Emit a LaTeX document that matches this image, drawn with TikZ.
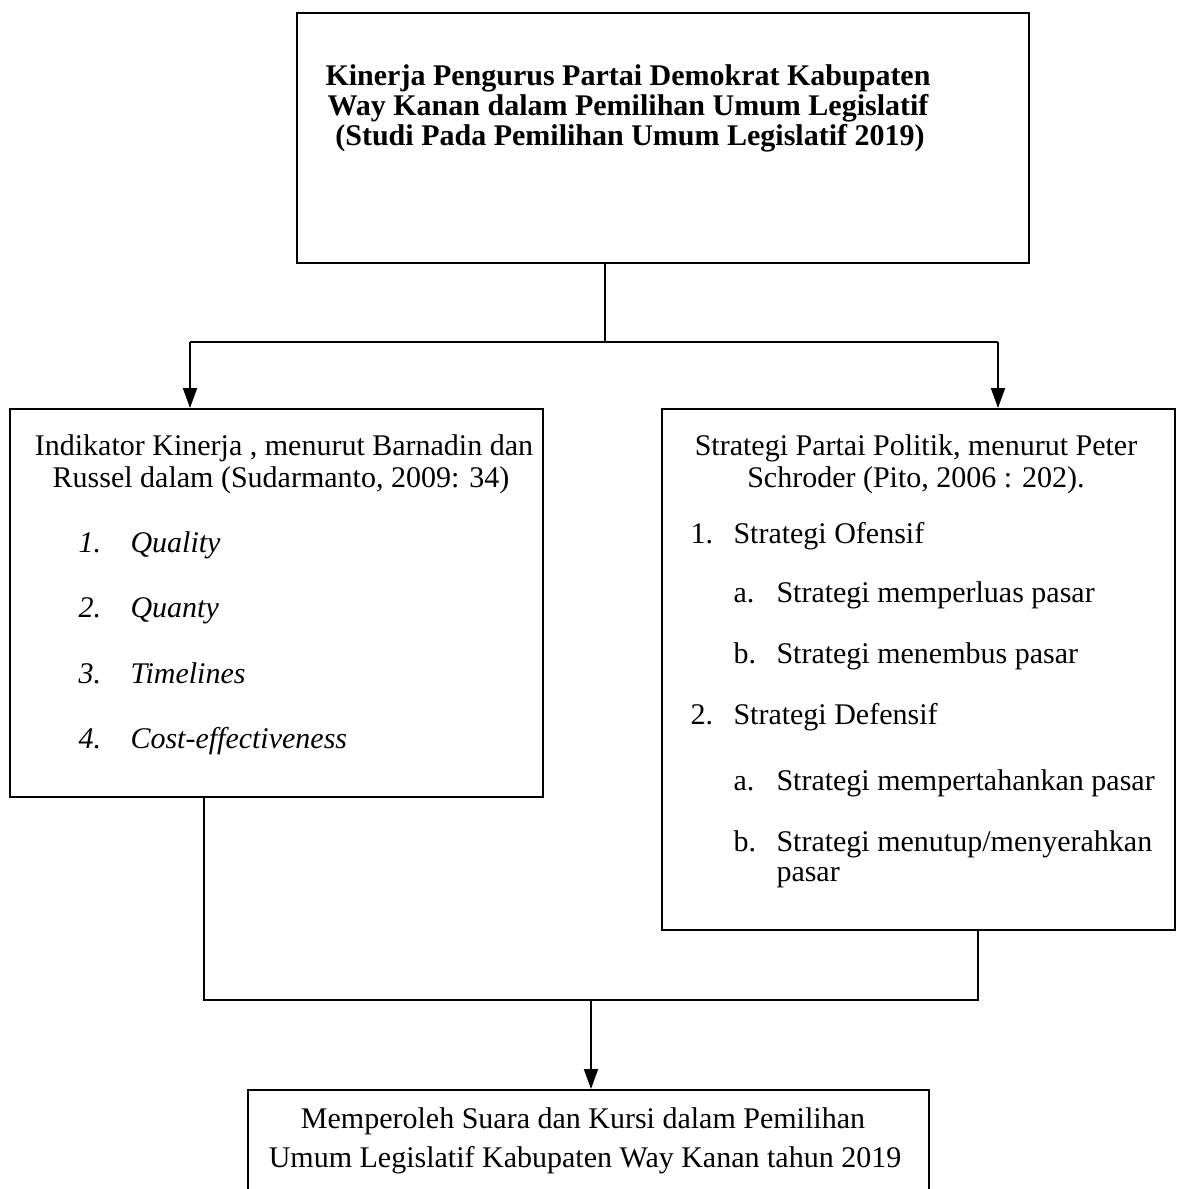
\documentclass[tikz,border=0pt]{standalone}
\usepackage{fontspec}
\setmainfont{Liberation Serif}
\usetikzlibrary{arrows.meta,fit}

\begin{document}
\begin{tikzpicture}[x=0.4pt,y=-0.4pt,
    kotak/.style={draw,line width=0.8pt,inner sep=0pt},
    garis/.style={line width=0.8pt},
    panah/.style={line width=0.8pt,-{Triangle[length=8pt,width=5.6pt]}},
    teks/.style={inner sep=0pt,font=\fontsize{12}{13.8}\selectfont},
    tebal/.style={teks,font=\fontsize{12}{13.8}\selectfont\bfseries}]
    \useasboundingbox (0,0) rectangle (1176,1189);
    % kotak-kotak
    \node[kotak,fit={(297,13) (1029,263)}] (judul) {};
    \node[kotak,fit={(10,409) (543,797)}] (indikator) {};
    \node[kotak,fit={(662,409) (1175,930)}] (strategi) {};
    \node[kotak,fit={(248,1090) (929,1260)}] (hasil) {};
    % judul
    \node[tebal,anchor=base] (judul1) at (628,85) {Kinerja Pengurus Partai Demokrat Kabupaten};
    \node[tebal,anchor=base] (judul2) at (628,115) {Way Kanan dalam Pemilihan Umum Legislatif};
    \node[tebal,anchor=base] (judul3) at (630,145) {(Studi Pada Pemilihan Umum Legislatif 2019)};
    % indikator kinerja
    \node[teks,anchor=base] (ind1) at (284,455) {Indikator Kinerja , menurut Barnadin dan};
    \node[teks,anchor=base] (ind2) at (281,487) {Russel dalam (Sudarmanto, 2009: 34)};
    \foreach \n/\isi/\yy in {1/Quality/552, 2/Quanty/617, 3/Timelines/683, 4/Cost-effectiveness/748}
    {
    \node[teks,anchor=base west] (no\n) at (78,\yy) {\textit{\n.}};
    \node[teks,anchor=base west] (item\n) at (130,\yy) {\textit{\isi}};
    }
    % strategi partai
    \node[teks,anchor=base] (str1) at (916,455) {Strategi Partai Politik, menurut Peter};
    \node[teks,anchor=base] (str2) at (916,487) {Schroder (Pito, 2006 : 202).};
    \foreach \n/\isi/\yy in {1/Strategi Ofensif/543, 2/Strategi Defensif/724}
    {
    \node[teks,anchor=base west] (sno\n) at (690,\yy) {\n.};
    \node[teks,anchor=base west] (sitem\n) at (733,\yy) {\isi};
    }
    \foreach \h/\huruf/\isi/\yy in {a/a/Strategi memperluas pasar/602, b/b/Strategi menembus pasar/663,
      c/a/Strategi mempertahankan pasar/790, d/b/{Strategi menutup/menyerahkan}/851}
    {
    \node[teks,anchor=base west] (huruf\h) at (733,\yy) {\huruf.};
    \node[teks,anchor=base west] (sub\h) at (776,\yy) {\isi};
    }
    \node[teks,anchor=base west] (subd2) at (776,881) {pasar};
    % hasil
    \node[teks,anchor=base] (has1) at (583,1128) {Memperoleh Suara dan Kursi dalam Pemilihan};
    \node[teks,anchor=base] (has2) at (585,1167) {Umum Legislatif Kabupaten Way Kanan tahun 2019};
    % garis penghubung
    \coordinate (cabang) at (605,342);
    \coordinate (cabangkiri) at (190,342);
    \coordinate (cabangkanan) at (998,342);
    \draw[garis] (judul.south -| cabang) -- (cabang);
    \draw[garis] (cabangkiri) -- (cabangkanan);
    \draw[panah] (cabangkiri) -- (cabangkiri |- indikator.north);
    \draw[panah] (cabangkanan) -- (cabangkanan |- strategi.north);
    \coordinate (gabungkiri) at (204,1000);
    \coordinate (gabungkanan) at (978,1000);
    \coordinate (gabung) at (591,1000);
    \draw[garis] (indikator.south -| gabungkiri) -- (gabungkiri) -- (gabungkanan) -- (strategi.south -| gabungkanan);
    \draw[panah] (gabung) -- (hasil.north -| gabung);
\end{tikzpicture}
\end{document}
